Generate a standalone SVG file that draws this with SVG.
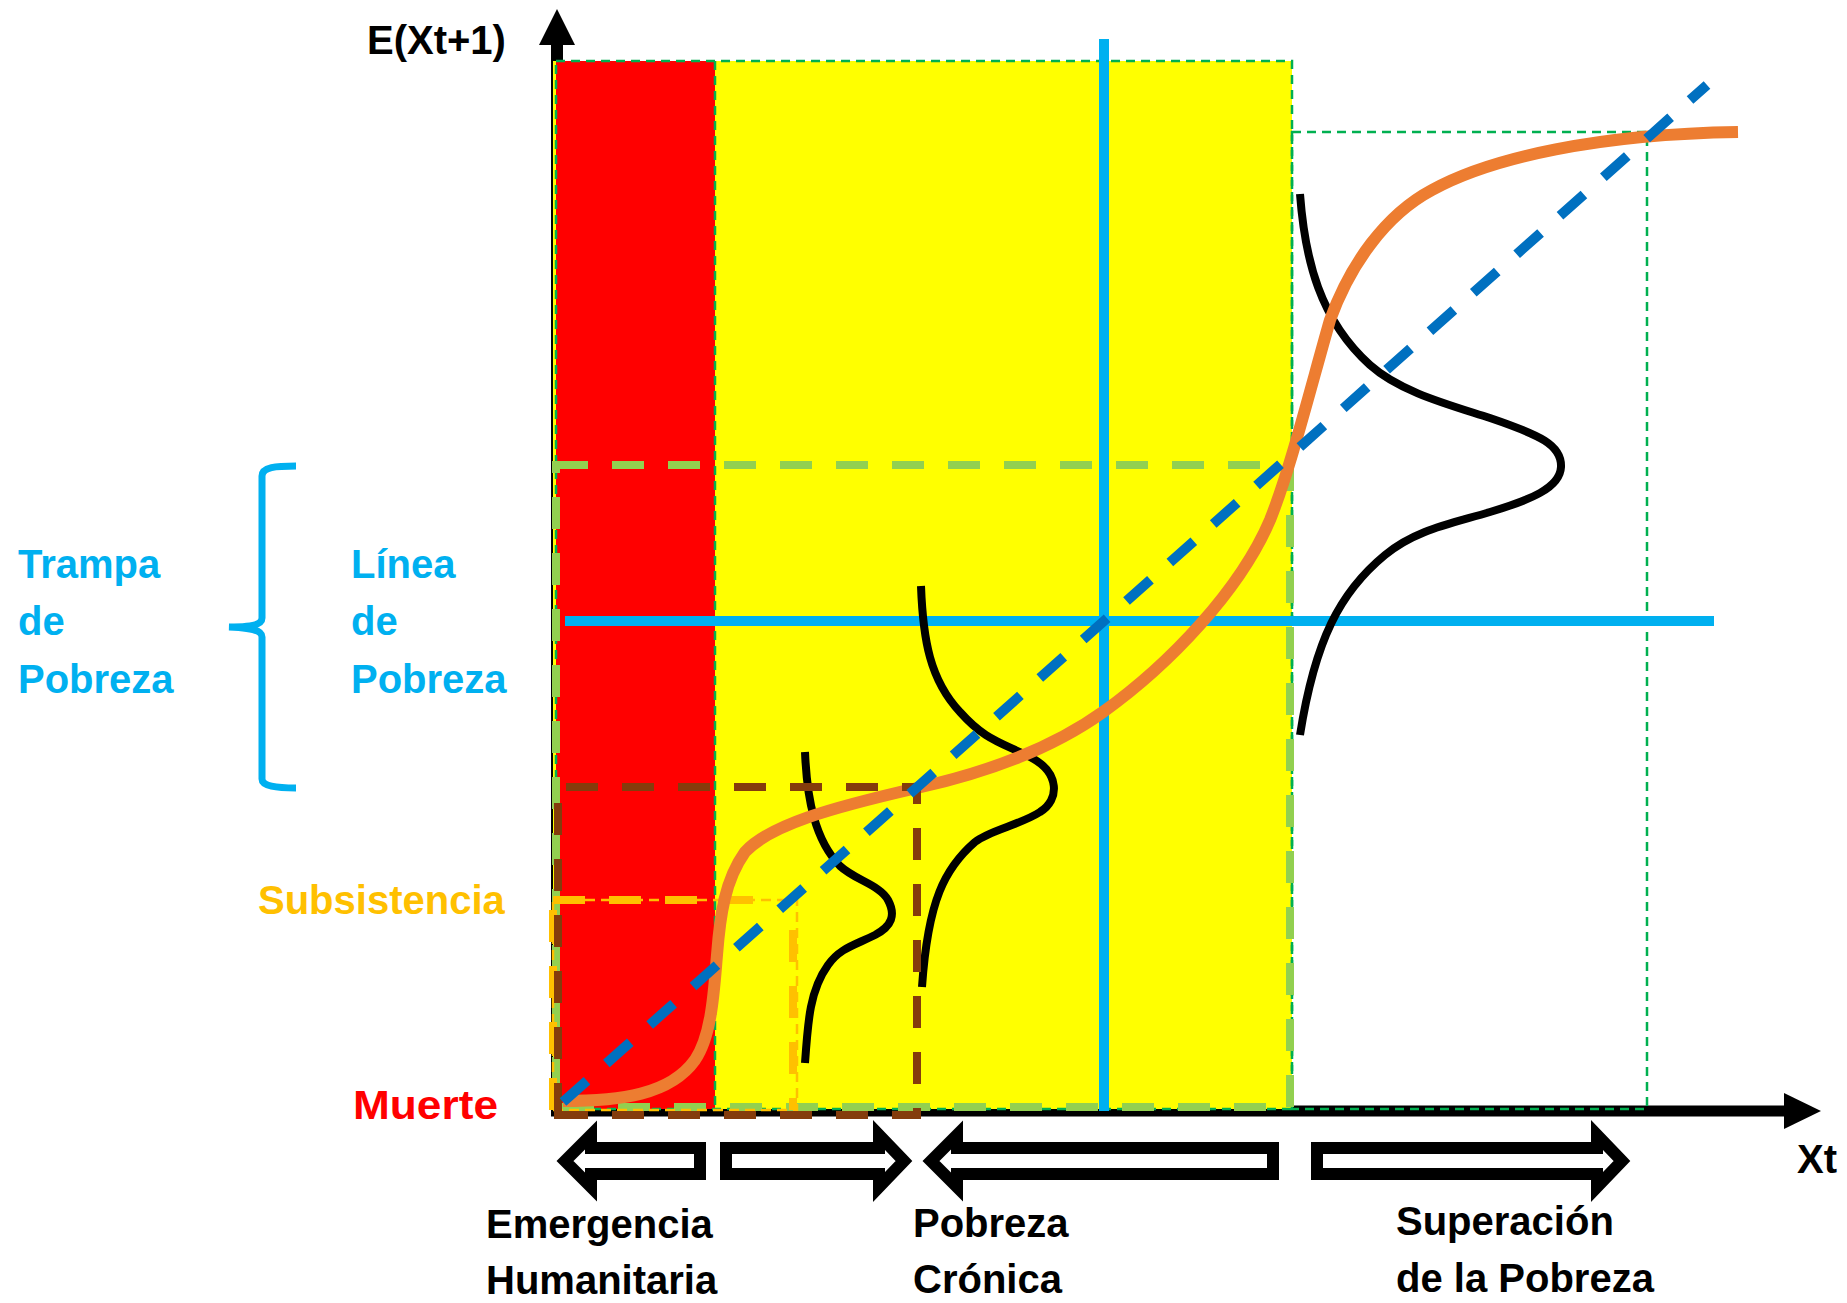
<svg xmlns="http://www.w3.org/2000/svg" width="1847" height="1303" viewBox="0 0 1847 1303">
<style>
text{font-family:"Liberation Sans",Arial,sans-serif;font-weight:bold;font-size:40px}
.blk{fill:#000}
.cy{fill:#00B0F0}
.thin{fill:none;stroke:#00B050;stroke-width:2.5;stroke-dasharray:9 6}
.lg{fill:none;stroke:#92D050;stroke-width:8;stroke-dasharray:32 24}
.dist{fill:none;stroke:#000;stroke-width:8}
.barrow{fill:#fff;stroke:#000;stroke-width:12;stroke-linejoin:miter}
.sub{fill:none;stroke:#FFC000;stroke-width:8;stroke-dasharray:32 24}
</style>
<rect width="1847" height="1303" fill="#fff"/>
<g id="axes">
<line x1="557" y1="44" x2="557" y2="1116" stroke="#000" stroke-width="12"/>
<polygon points="557,9 575,45 539,45" fill="#000"/>
<line x1="551" y1="1111" x2="1786" y2="1111" stroke="#000" stroke-width="11"/>
<polygon points="1821,1111 1784,1093 1784,1129" fill="#000"/>
</g>
<g id="zones">
<rect x="553" y="61" width="739" height="1048" fill="#FFFF00"/>
<rect x="556" y="61" width="159" height="1048" fill="#FF0000"/>
<rect class="thin" x="556" y="61" width="736" height="1048"/>
<line class="thin" x1="715" y1="61" x2="715" y2="1109"/>
<rect class="thin" x="1292" y="132" width="355" height="977"/>
</g>
<g id="levels">
<rect class="lg" x="556" y="465" width="734" height="642"/>
<path class="sub" d="M553,900 H760"/>
<path class="sub" d="M553,1110 V900"/>
<path class="sub" d="M793,930 V1110"/>
<rect x="553" y="900" width="244" height="210" fill="none" stroke="#FFC000" stroke-width="2.5" stroke-dasharray="10 6"/>
</g>
<g id="poverty-line">
<line x1="1104" y1="39" x2="1104" y2="1111" stroke="#00B0F0" stroke-width="10"/>
<line x1="565" y1="621" x2="1714" y2="621" stroke="#00B0F0" stroke-width="10"/>
</g>
<g id="distributions">
<path class="dist" d="M805,752 C807,800 815,840 840,866 C855,880 880,885 888,900 C896,915 892,926 875,935 C855,945 840,948 828,965 C810,990 808,1020 805,1063"/>
<path class="dist" d="M921,586 C923,640 930,680 960,712 C985,740 1000,742 1030,757 C1060,772 1060,800 1040,812 C1020,825 990,830 975,842 C945,868 928,900 922,987"/>
<path class="dist" d="M1300,194 C1305,260 1320,320 1370,365 C1400,392 1450,405 1490,418 C1540,435 1562,445 1561,467 C1560,488 1530,500 1490,512 C1450,524 1415,530 1385,555 C1340,592 1315,640 1300,735"/>
</g>
<g id="curve">
<path d="M563,1101 C620,1101 670,1095 695,1060 C712,1035 714,990 717,955 C720,915 725,880 745,852 C770,825 830,808 917,788 C980,774 1050,750 1103,712 C1170,664 1240,590 1270,520 C1290,470 1310,390 1330,320 C1350,265 1385,215 1432,190 C1492,157 1600,134 1738,132" fill="none" stroke="#ED7D31" stroke-width="12"/>
</g>
<g id="chronic-level">
<path d="M558,1115 V787 H917 V1115 Z" fill="none" stroke="#843C0C" stroke-width="8" stroke-dasharray="32 24"/>
</g>
<g id="diagonal">
<line x1="563" y1="1102" x2="1707" y2="85" stroke="#0070C0" stroke-width="10" stroke-dasharray="32 26"/>
</g>
<g id="brace">
<path d="M296,466 C276,466 262,467 262,476 L262,618 C262,625 250,627 229,627 C250,628 262,630 262,637 L262,779 C262,786 276,788 296,788" fill="none" stroke="#00B0F0" stroke-width="7"/>
</g>
<g id="labels">
<text x="367" y="54">E(Xt+1)</text>
<text x="1797" y="1173">Xt</text>
<text class="cy" x="18" y="578">Trampa</text>
<text class="cy" x="18" y="635">de</text>
<text class="cy" x="18" y="693">Pobreza</text>
<text class="cy" x="351" y="578">Línea</text>
<text class="cy" x="351" y="635">de</text>
<text class="cy" x="351" y="693">Pobreza</text>
<text x="258" y="914" fill="#FFC000">Subsistencia</text>
<text x="353" y="1119" fill="#FF0000" textLength="145" lengthAdjust="spacingAndGlyphs">Muerte</text>
</g>
<g id="arrow-emergencia">
<polygon class="barrow" points="565,1161 591,1135 591,1148 700,1148 700,1174 591,1174 591,1187"/>
<polygon class="barrow" points="904,1161 879,1135 879,1148 726,1148 726,1174 879,1174 879,1187"/>
<text x="486" y="1238">Emergencia</text>
<text x="486" y="1294">Humanitaria</text>
</g>
<g id="arrow-cronica">
<polygon class="barrow" points="931,1161 957,1135 957,1148 1273,1148 1273,1174 957,1174 957,1187"/>
<text x="913" y="1237">Pobreza</text>
<text x="913" y="1293">Crónica</text>
</g>
<g id="arrow-superacion">
<polygon class="barrow" points="1622,1161 1597,1135 1597,1148 1317,1148 1317,1174 1597,1174 1597,1187"/>
<text x="1396" y="1235">Superación</text>
<text x="1396" y="1292">de la Pobreza</text>
</g>
</svg>
